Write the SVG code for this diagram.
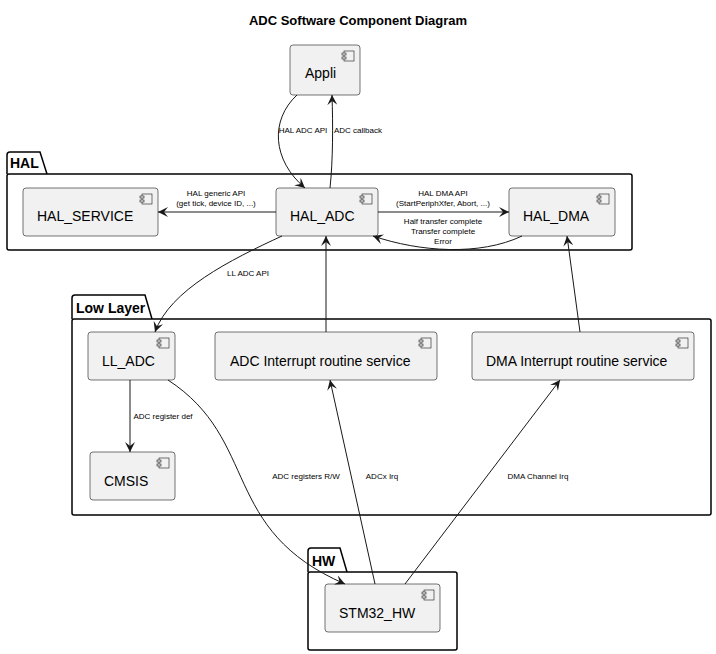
<svg xmlns="http://www.w3.org/2000/svg" width="716" height="654" viewBox="0 0 716 654">
<defs>
<style>
.pkg{fill:#fff;stroke:#000;stroke-width:1.5}
.cmp{fill:#f1f1f1;stroke:#181818;stroke-width:0.6}
.ic{fill:#f1f1f1;stroke:#181818;stroke-width:0.6}
.nt{font-family:"Liberation Sans",Arial,sans-serif;font-size:14px;fill:#000}
.pt{font-family:"Liberation Sans",Arial,sans-serif;font-size:14px;font-weight:bold;fill:#000}
.lb{font-family:"Liberation Sans",Arial,sans-serif;font-size:8px;fill:#000;text-anchor:middle}
.e{fill:none;stroke:#181818;stroke-width:1}
</style>
<marker id="a" viewBox="0 0 10 10" refX="10" refY="5" markerWidth="10" markerHeight="10" markerUnits="userSpaceOnUse" orient="auto">
<path d="M0,0 L10,5 L0,10 L4,5 Z" fill="#181818"/>
</marker>
<g id="icon"><rect x="-10" y="0" width="10" height="10" class="ic"/><rect x="-12" y="2" width="4" height="2" class="ic"/><rect x="-12" y="6" width="4" height="2" class="ic"/></g>
</defs>
<rect width="716" height="654" fill="#fff"/>
<text x="358" y="25" text-anchor="middle" font-family="'Liberation Sans',Arial,sans-serif" font-size="13" font-weight="bold">ADC Software Component Diagram</text>

<g id="pkg-HAL"><path class="pkg" d="M7,174 V155 a3,3 0 0 1 3,-3 H40 L47,174"/><rect class="pkg" x="7" y="174" width="625" height="76" rx="2"/><text class="pt" x="10" y="168">HAL</text></g>
<g id="pkg-LL"><path class="pkg" d="M72,319 V298 a3,3 0 0 1 3,-3 H145 L152,319"/><rect class="pkg" x="72" y="319" width="639" height="196" rx="2"/><text class="pt" x="76" y="313">Low Layer</text></g>
<g id="pkg-HW"><path class="pkg" d="M308,572 V551 a3,3 0 0 1 3,-3 H340 L347,572"/><rect class="pkg" x="308" y="572" width="149" height="78" rx="2"/><text class="pt" x="312" y="566">HW</text></g>

<g id="Appli"><rect class="cmp" x="290" y="45" width="70" height="50" rx="3"/><use href="#icon" x="354" y="51"/><text class="nt" x="305" y="78">Appli</text></g>
<g id="HAL_SERVICE"><rect class="cmp" x="23" y="188" width="135" height="48" rx="3"/><use href="#icon" x="152" y="194"/><text class="nt" x="37" y="221">HAL_SERVICE</text></g>
<g id="HAL_ADC"><rect class="cmp" x="276" y="188" width="102" height="48" rx="3"/><use href="#icon" x="372" y="194"/><text class="nt" x="290" y="221">HAL_ADC</text></g>
<g id="HAL_DMA"><rect class="cmp" x="509" y="188" width="106" height="48" rx="3"/><use href="#icon" x="609" y="194"/><text class="nt" x="523" y="221">HAL_DMA</text></g>
<g id="LL_ADC"><rect class="cmp" x="88" y="332" width="87" height="48" rx="3"/><use href="#icon" x="169" y="338"/><text class="nt" x="102" y="366">LL_ADC</text></g>
<g id="ADC_IRS"><rect class="cmp" x="215" y="332" width="222" height="48" rx="3"/><use href="#icon" x="431" y="338"/><text class="nt" x="230" y="366">ADC Interrupt routine service</text></g>
<g id="DMA_IRS"><rect class="cmp" x="472" y="332" width="222" height="48" rx="3"/><use href="#icon" x="688" y="338"/><text class="nt" x="486" y="366">DMA Interrupt routine service</text></g>
<g id="CMSIS"><rect class="cmp" x="90" y="452" width="85" height="48" rx="3"/><use href="#icon" x="169" y="458"/><text class="nt" x="104" y="486">CMSIS</text></g>
<g id="STM32_HW"><rect class="cmp" x="325" y="584" width="115" height="48" rx="3"/><use href="#icon" x="434" y="590"/><text class="nt" x="339" y="618">STM32_HW</text></g>

<g id="connectors">
<path class="e" marker-end="url(#a)" d="M297,95 C270,120 272,160 305,188"/>
<text class="lb" x="303" y="133">HAL ADC API</text>
<path class="e" marker-end="url(#a)" d="M330,188 C333,160 333,125 332,95"/>
<text class="lb" x="358" y="133">ADC callback</text>
<path class="e" marker-end="url(#a)" d="M276,212 H158"/>
<text class="lb" x="216" y="196">HAL generic API</text><text class="lb" x="216" y="206">(get tick, device ID, ...)</text>
<path class="e" marker-end="url(#a)" d="M378,212 H509"/>
<text class="lb" x="443" y="196">HAL DMA API</text><text class="lb" x="443" y="206">(StartPeriphXfer, Abort, ...)</text>
<path class="e" marker-end="url(#a)" d="M522,236 C480,256 420,252 373,236"/>
<text class="lb" x="443" y="224">Half transfer complete</text><text class="lb" x="443" y="234">Transfer complete</text><text class="lb" x="443" y="244">Error</text>
<path class="e" marker-end="url(#a)" d="M282,236 C230,260 170,290 155,332"/>
<text class="lb" x="248" y="276">LL ADC API</text>
<path class="e" marker-end="url(#a)" d="M326,332 V236"/>
<path class="e" marker-end="url(#a)" d="M580,332 L567,236"/>
<path class="e" marker-end="url(#a)" d="M130,380 V452"/>
<text class="lb" x="163" y="419">ADC register def</text>
<path class="e" marker-end="url(#a)" d="M168,380 C260,440 220,530 345,584"/>
<text class="lb" x="306" y="479">ADC registers R/W</text>
<path class="e" marker-end="url(#a)" d="M375,584 L330,380"/>
<text class="lb" x="382" y="479">ADCx Irq</text>
<path class="e" marker-end="url(#a)" d="M405,584 L560,380"/>
<text class="lb" x="538" y="479">DMA Channel Irq</text>
</g>
</svg>
